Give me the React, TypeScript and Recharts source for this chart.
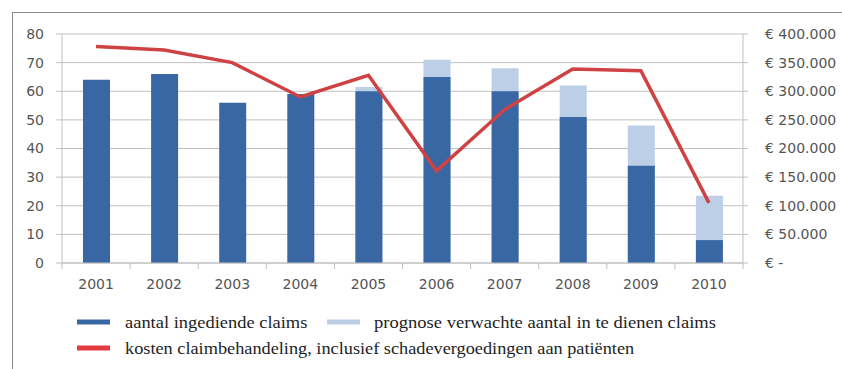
import React from "react";
import { ComposedChart, Bar, Line, XAxis, YAxis, CartesianGrid } from "recharts";

const years = ["2001", "2002", "2003", "2004", "2005", "2006", "2007", "2008", "2009", "2010"];
const ingediend = [64, 66, 56, 59, 60, 65, 60, 51, 34, 8];
const prognose = [null, null, null, null, 61.5, 71, 68, 62, 48, 23.5];
const kosten = [378000, 372000, 350000, 290000, 328000, 161000, 268000, 339000, 336000, 105000];
const leftTicks = [0, 10, 20, 30, 40, 50, 60, 70, 80];
const rightTicks = [0, 50000, 100000, 150000, 200000, 250000, 300000, 350000, 400000];

const legendLabels = [
  "aantal ingediende claims",
  "prognose verwachte aantal in te dienen claims",
  "kosten claimbehandeling, inclusief schadevergoedingen aan patiënten",
];

const data = years.map((y, i) => ({
  year: y,
  ingediend: ingediend[i],
  prognose: prognose[i],
  kosten: kosten[i],
}));

const W = 842;
const H = 369;
const LEFT_W = 62;
const RIGHT_W = 99;
const TOP = 34;
const BOTTOM_H = 106;
const PLOT_BOTTOM = H - BOTTOM_H;
const BAND = (W - LEFT_W - RIGHT_W) / years.length;

const DARK = "#3867a4";
const LIGHT = "#bccfe7";
const RED = "#cf4243";
const GRID = "#c0c0c0";
const AXIS_TEXT = "#555555";
const FONT = "DejaVu Sans";

const fmtEuro = (v: number) => {
  if (v === 0) return "€ -";
  const s = String(Math.round(v));
  return "€ " + s.replace(/\B(?=(\d{3})+(?!\d))/g, ".");
};

const XTick = (props: any) => {
  const { x, payload, index } = props;
  return (
    <g>
      <line x1={x - BAND / 2} x2={x - BAND / 2} y1={PLOT_BOTTOM} y2={PLOT_BOTTOM + 6} stroke={GRID} />
      {index === years.length - 1 && (
        <line x1={x + BAND / 2} x2={x + BAND / 2} y1={PLOT_BOTTOM} y2={PLOT_BOTTOM + 6} stroke={GRID} />
      )}
      <text x={x} y={PLOT_BOTTOM + 21} dy="0.35em" textAnchor="middle" fill={AXIS_TEXT} fontFamily={FONT} fontSize={14}>
        {payload.value}
      </text>
    </g>
  );
};

const legendItems = [
  { label: legendLabels[0], color: DARK, sx: 77, tx: 125, y: 322 },
  { label: legendLabels[1], color: LIGHT, sx: 327, tx: 374, y: 322 },
  { label: legendLabels[2], color: "#e23b3d", sx: 77, tx: 125, y: 348 },
];

export default function App() {
  return (
    <div style={{ position: "absolute", left: 0, top: 0, width: W, height: H, background: "#fff" }}>
      <div
        style={{
          position: "absolute",
          left: 12,
          top: 12,
          width: W - 12,
          height: H - 12,
          borderTop: "1px solid #8c8c8c",
          borderLeft: "1px solid #8c8c8c",
          boxSizing: "border-box",
        }}
      />
      <div style={{ position: "absolute", left: 0, top: 0 }}>
        <ComposedChart width={W} height={H} data={data} margin={{ top: TOP, right: 0, bottom: 0, left: 0 }} barGap={-27}>
          <CartesianGrid vertical={false} stroke={GRID} yAxisId="left" />
          <XAxis
            dataKey="year"
            height={BOTTOM_H}
            tickLine={false}
            axisLine={{ stroke: GRID }}
            tick={<XTick />}
            interval={0}
          />
          <YAxis
            yAxisId="left"
            orientation="left"
            width={LEFT_W}
            domain={[0, 80]}
            ticks={leftTicks}
            interval={0}
            tickSize={6}
            tickMargin={12}
            axisLine={{ stroke: GRID }}
            tickLine={{ stroke: GRID }}
            tick={{ fill: AXIS_TEXT, fontFamily: FONT, fontSize: 14 }}
          />
          <YAxis
            yAxisId="right"
            orientation="right"
            width={RIGHT_W}
            domain={[0, 400000]}
            ticks={rightTicks}
            interval={0}
            tickSize={5}
            tickMargin={17}
            axisLine={{ stroke: GRID }}
            tickLine={{ stroke: GRID }}
            tickFormatter={fmtEuro}
            tick={{ fill: AXIS_TEXT, fontFamily: FONT, fontSize: 14, textAnchor: "start" }}
          />
          <Bar yAxisId="left" dataKey="prognose" fill={LIGHT} barSize={27} isAnimationActive={false} />
          <Bar yAxisId="left" dataKey="ingediend" fill={DARK} barSize={27} isAnimationActive={false} />
          <Line
            yAxisId="right"
            dataKey="kosten"
            type="linear"
            stroke={RED}
            strokeWidth={3.5}
            dot={false}
            activeDot={false}
            isAnimationActive={false}
          />
        </ComposedChart>
      </div>
      <svg width={W} height={H} style={{ position: "absolute", left: 0, top: 0, pointerEvents: "none" }}>
        {legendItems.map((it) => (
          <g key={it.label}>
            <rect x={it.sx} y={it.y - 2.5} width={33} height={5} fill={it.color} />
            <text
              x={it.tx}
              y={it.y}
              dy="0.35em"
              fontFamily="'Liberation Serif', serif"
              fontSize={17}
              fill="#1e1e1e"
              textLength={it.label.length * 7.6}
              lengthAdjust="spacingAndGlyphs"
            >
              {it.label}
            </text>
          </g>
        ))}
      </svg>
    </div>
  );
}
